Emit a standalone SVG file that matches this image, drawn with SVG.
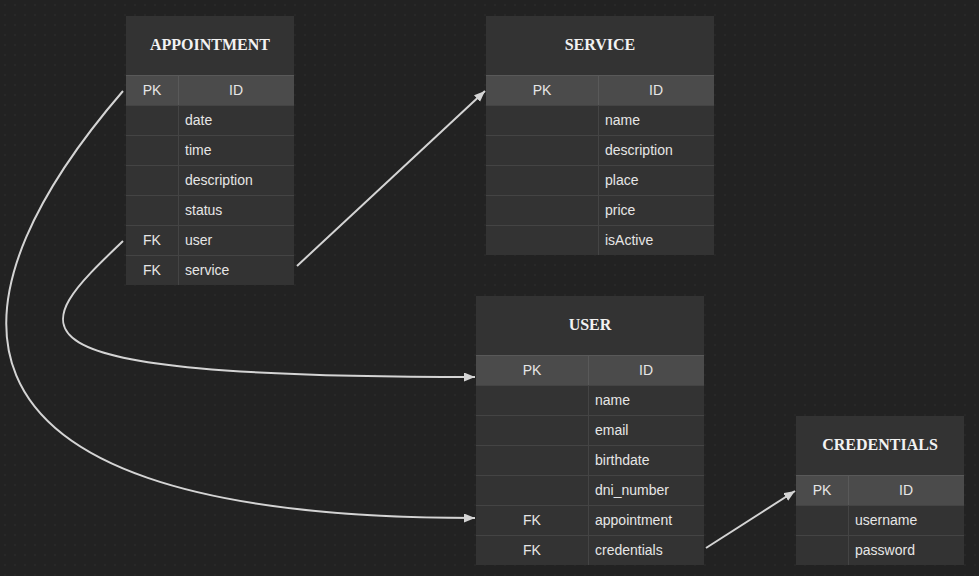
<svg xmlns="http://www.w3.org/2000/svg" width="979" height="576" viewBox="0 0 979 576">
<defs>
<pattern id="dots" width="10" height="10" patternUnits="userSpaceOnUse"><circle cx="5" cy="5" r="0.8" fill="#2e2e2e"/></pattern>
<marker id="arr" markerWidth="12" markerHeight="10" refX="11" refY="4.5" orient="auto" markerUnits="userSpaceOnUse"><path d="M0,0 L11,4.5 L0,9 z" fill="#d4d4d4"/></marker>
<style>
.tb{fill:#333333}
.pk{fill:#4b4b4b}
.sep{stroke:#444444;stroke-width:1}
.sepk{stroke:#595959;stroke-width:1}
.title{font-family:"Liberation Serif","DejaVu Serif",serif;font-weight:bold;font-size:16px;fill:#f2f2f2;text-anchor:middle}
.c{font-family:"Liberation Sans",Arial,sans-serif;font-size:14px;fill:#e6e6e6;text-anchor:middle}
.f{font-family:"Liberation Sans",Arial,sans-serif;font-size:14px;fill:#e6e6e6}
.conn{fill:none;stroke:#d4d4d4;stroke-width:2}
</style>
</defs>
<rect width="979" height="576" fill="#222222"/>
<rect width="979" height="576" fill="url(#dots)"/>

<g id="appointment">
<rect class="tb" x="126" y="16" width="168" height="269"/>
<rect class="pk" x="126" y="75" width="168" height="30"/>
<text class="title" x="210" y="50">APPOINTMENT</text>
<line class="sepk" x1="126" y1="75.5" x2="294" y2="75.5"/>
<line class="sepk" x1="178.5" y1="75" x2="178.5" y2="105"/>
<line class="sep" x1="178.5" y1="105" x2="178.5" y2="285"/>
<line class="sep" x1="126" y1="105.5" x2="294" y2="105.5"/>
<line class="sep" x1="126" y1="135.5" x2="294" y2="135.5"/>
<line class="sep" x1="126" y1="165.5" x2="294" y2="165.5"/>
<line class="sep" x1="126" y1="195.5" x2="294" y2="195.5"/>
<line class="sep" x1="126" y1="225.5" x2="294" y2="225.5"/>
<line class="sep" x1="126" y1="255.5" x2="294" y2="255.5"/>
<text class="c" x="152" y="95">PK</text><text class="c" x="236" y="95">ID</text>
<text class="f" x="185" y="125">date</text>
<text class="f" x="185" y="155">time</text>
<text class="f" x="185" y="185">description</text>
<text class="f" x="185" y="215">status</text>
<text class="c" x="152" y="245">FK</text><text class="f" x="185" y="245">user</text>
<text class="c" x="152" y="275">FK</text><text class="f" x="185" y="275">service</text>
</g>

<g id="service">
<rect class="tb" x="486" y="16" width="228" height="239"/>
<rect class="pk" x="486" y="75" width="228" height="30"/>
<text class="title" x="600" y="50">SERVICE</text>
<line class="sepk" x1="486" y1="75.5" x2="714" y2="75.5"/>
<line class="sepk" x1="598.5" y1="75" x2="598.5" y2="105"/>
<line class="sep" x1="598.5" y1="105" x2="598.5" y2="255"/>
<line class="sep" x1="486" y1="105.5" x2="714" y2="105.5"/>
<line class="sep" x1="486" y1="135.5" x2="714" y2="135.5"/>
<line class="sep" x1="486" y1="165.5" x2="714" y2="165.5"/>
<line class="sep" x1="486" y1="195.5" x2="714" y2="195.5"/>
<line class="sep" x1="486" y1="225.5" x2="714" y2="225.5"/>
<text class="c" x="542" y="95">PK</text><text class="c" x="656" y="95">ID</text>
<text class="f" x="605" y="125">name</text>
<text class="f" x="605" y="155">description</text>
<text class="f" x="605" y="185">place</text>
<text class="f" x="605" y="215">price</text>
<text class="f" x="605" y="245">isActive</text>
</g>

<g id="user">
<rect class="tb" x="476" y="296" width="228" height="269"/>
<rect class="pk" x="476" y="355" width="228" height="30"/>
<text class="title" x="590" y="330">USER</text>
<line class="sepk" x1="476" y1="355.5" x2="704" y2="355.5"/>
<line class="sepk" x1="588.5" y1="355" x2="588.5" y2="385"/>
<line class="sep" x1="588.5" y1="385" x2="588.5" y2="565"/>
<line class="sep" x1="476" y1="385.5" x2="704" y2="385.5"/>
<line class="sep" x1="476" y1="415.5" x2="704" y2="415.5"/>
<line class="sep" x1="476" y1="445.5" x2="704" y2="445.5"/>
<line class="sep" x1="476" y1="475.5" x2="704" y2="475.5"/>
<line class="sep" x1="476" y1="505.5" x2="704" y2="505.5"/>
<line class="sep" x1="476" y1="535.5" x2="704" y2="535.5"/>
<text class="c" x="532" y="375">PK</text><text class="c" x="646" y="375">ID</text>
<text class="f" x="595" y="405">name</text>
<text class="f" x="595" y="435">email</text>
<text class="f" x="595" y="465">birthdate</text>
<text class="f" x="595" y="495">dni_number</text>
<text class="c" x="532" y="525">FK</text><text class="f" x="595" y="525">appointment</text>
<text class="c" x="532" y="555">FK</text><text class="f" x="595" y="555">credentials</text>
</g>

<g id="credentials">
<rect class="tb" x="796" y="416" width="168" height="149"/>
<rect class="pk" x="796" y="475" width="168" height="30"/>
<text class="title" x="880" y="450">CREDENTIALS</text>
<line class="sepk" x1="796" y1="475.5" x2="964" y2="475.5"/>
<line class="sepk" x1="848.5" y1="475" x2="848.5" y2="505"/>
<line class="sep" x1="848.5" y1="505" x2="848.5" y2="565"/>
<line class="sep" x1="796" y1="505.5" x2="964" y2="505.5"/>
<line class="sep" x1="796" y1="535.5" x2="964" y2="535.5"/>
<text class="c" x="822" y="495">PK</text><text class="c" x="906" y="495">ID</text>
<text class="f" x="855" y="525">username</text>
<text class="f" x="855" y="555">password</text>
</g>

<g id="connectors">
<path class="conn" d="M123,91 C-40,280 -116,518 475,518" marker-end="url(#arr)"/>
<path class="conn" d="M123,241 C30,330 -19,377 475,377" marker-end="url(#arr)"/>
<path class="conn" d="M297,266 L485,91" marker-end="url(#arr)"/>
<path class="conn" d="M706,548 L795,491" marker-end="url(#arr)"/>
</g>
</svg>
